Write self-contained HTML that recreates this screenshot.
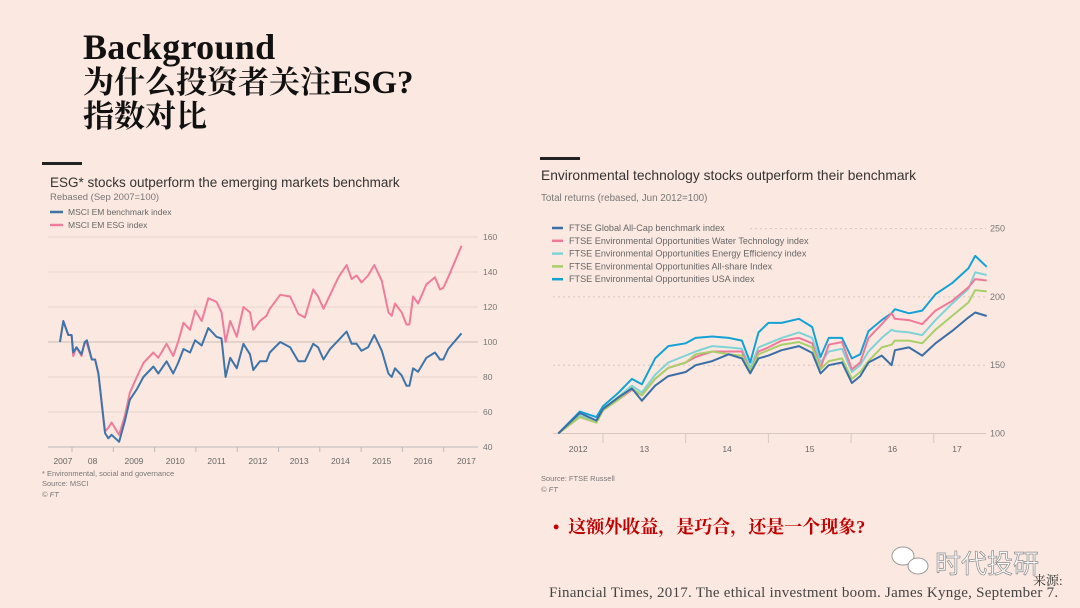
<!DOCTYPE html>
<html><head><meta charset="utf-8"><style>
body{margin:0;width:1080px;height:608px;background:#fbe9e1;overflow:hidden;position:relative;font-family:"Liberation Sans","Noto Sans CJK SC",sans-serif}
.t{position:absolute;white-space:nowrap}
</style></head><body>
<div class="t" style="left:83px;top:30px;font-family:'Liberation Serif','Noto Serif CJK SC',serif;font-weight:bold;font-size:31px;line-height:34px;color:#111"><span style="font-size:36px;letter-spacing:0.3px">Background</span><br>为什么投资者关注<span style="font-size:33px">ESG?</span><br>指数对比</div>
<svg width="1080" height="608" style="position:absolute;left:0;top:0">
<g id="left">
<rect x="42" y="162" width="40" height="3" fill="#222"/>
<text x="50" y="187" font-size="13.5" fill="#333">ESG* stocks outperform the emerging markets benchmark</text>
<text x="50" y="200" font-size="9.5" fill="#777">Rebased (Sep 2007=100)</text>
<line x1="50" y1="212" x2="63" y2="212" stroke="#3f74a8" stroke-width="2.5"/>
<text x="68" y="215" font-size="8.5" fill="#666">MSCI EM benchmark index</text>
<line x1="50" y1="225" x2="63" y2="225" stroke="#f07c9c" stroke-width="2.5"/>
<text x="68" y="228" font-size="8.5" fill="#666">MSCI EM ESG index</text>
<text x="42" y="476" font-size="7.5" fill="#777">* Environmental, social and governance</text>
<text x="42" y="486" font-size="7.5" fill="#777">Source: MSCI</text>
<text x="42" y="497" font-size="7.5" fill="#777" font-style="italic">© FT</text>
</g>
<g id="right">
<rect x="540" y="157" width="40" height="3" fill="#222"/>
<text x="541" y="180" font-size="13.8" fill="#333">Environmental technology stocks outperform their benchmark</text>
<text x="541" y="201" font-size="9.8" fill="#777">Total returns (rebased, Jun 2012=100)</text>
<text x="541" y="481" font-size="7.5" fill="#777">Source: FTSE Russell</text>
<text x="541" y="492" font-size="7.5" fill="#777" font-style="italic">© FT</text>
</g>
<g fill="#fff" stroke="#999" stroke-width="1">
<ellipse cx="903" cy="556" rx="11" ry="9"/>
<ellipse cx="918" cy="566" rx="10" ry="8"/>
</g>
</svg>
<div class="t" style="left:553px;top:513px;font-family:'Liberation Serif','Noto Serif CJK SC',serif;font-weight:bold;font-size:18px;color:#c00000">•&nbsp; 这额外收益，是巧合，还是一个现象?</div>
<div class="t" style="left:935px;top:544px;font-size:26px;color:#fff;-webkit-text-stroke:0.7px #8a8a8a;font-family:'Noto Sans CJK SC',sans-serif">时代投研</div>
<div class="t" style="left:1033px;top:570px;font-size:13px;color:#333;font-family:'Liberation Serif','Noto Serif CJK SC',serif">来源:</div>
<div class="t" style="left:549px;top:585px;font-size:15px;letter-spacing:0.25px;color:#444;font-family:'Liberation Serif',serif">Financial Times, 2017. The ethical investment boom. James Kynge, September 7.</div>
<script>
const NS='http://www.w3.org/2000/svg';
// Left chart data
const leftDates=[2007.71,2007.79,2007.91,2007.99,2008.03,2008.11,2008.23,2008.31,2008.36,2008.48,2008.56,2008.64,2008.80,2008.88,2008.96,2009.14,2009.28,2009.40,2009.57,2009.73,2009.97,2010.09,2010.29,2010.45,2010.57,2010.70,2010.86,2010.98,2011.14,2011.30,2011.50,2011.62,2011.72,2011.83,2011.99,2012.15,2012.31,2012.39,2012.55,2012.71,2012.79,2013.04,2013.28,2013.48,2013.64,2013.84,2013.96,2014.09,2014.25,2014.45,2014.65,2014.77,2014.89,2015.01,2015.17,2015.32,2015.50,2015.66,2015.74,2015.82,2015.98,2016.10,2016.17,2016.26,2016.38,2016.58,2016.79,2016.91,2016.99,2017.11,2017.43];
const benchmark=[100,112,104,104,94,97,93,100,101,90,90,82,48,45,47,43,55,67,73,80,86,82,89,82,88,96,94,101,98,108,103,102,80,91,85,99,93,84,89,89,94,100,97,89,89,99,97,90,96,101,106,99,99,95,97,104,95,82,80,85,81,75,75,85,83,91,94,90,90,96,105];
const esg=[100,112,104,104,92,97,92,100,99,90,90,82,49,51,54,47,58,71,80,88,94,91,99,92,100,111,107,118,112,125,123,117,100,112,103,120,117,107,112,115,119,127,126,116,114,130,126,119,127,137,144,136,138,134,138,144,135,117,115,122,117,110,110,126,122,133,137,130,131,137,155];
const leftTicks=[40,60,80,100,120,140,160];
const leftYearLabels=['2007','08','2009','2010','2011','2012','2013','2014','2015','2016','2017'];
const leftYearPos=[2007.78,2008.5,2009.5,2010.5,2011.5,2012.5,2013.5,2014.5,2015.5,2016.5,2017.55];
const leftTickYears=[2008,2009,2010,2011,2012,2013,2014,2015,2016,2017];
// Right chart data
const rightDates=[2012.46,2012.72,2012.92,2013.0,2013.19,2013.35,2013.47,2013.63,2013.79,2014.0,2014.12,2014.32,2014.52,2014.68,2014.78,2014.88,2015.0,2015.16,2015.37,2015.53,2015.63,2015.73,2015.89,2016.01,2016.11,2016.21,2016.37,2016.49,2016.53,2016.70,2016.86,2017.02,2017.22,2017.42,2017.5,2017.64];
const ftseAllCap=[100,115,109.5,118,126.6,133,124,135,142,145,150,153,158,155,144,155,157,161,164,159,144,150,152,137,142,152,157,150,161,163,157,166,175,185,188.6,186];
const waterTech=[100,112,108,117,125,132,128,140,148,152,156,160,160,160,145,160,163,168,170,166,148,165,167,147,152,170,180,188,184,183,180,190,197,207,213,212];
const energyEff=[100,113,109,118,127,135,130,143,152,157,160,164,163,162,148,163,166,170,174,170,152,160,162,145,150,160,170,176,175,174,172,183,195,206,218,216];
const allShare=[100,112,108,117,125,133,128,140,148,152,158,160,158,157,146,158,161,165,167,163,147,153,155,140,145,153,163,165,168,168,166,176,186,196,205,204];
const usaIdx=[100,116,112,120,130,140,136,155,164,166,170,171,170,168,152,174,181,181,184,178,156,170,170,155,158,175,183,188,191,188,190,202,210,221,230,222];
const rightTicks=[100,150,200,250];
const rightYearLabels=['2012','13','14','15','16','17'];
const rightYearPos=[2012.7,2013.5,2014.5,2015.5,2016.5,2017.28];
const rightTickYears=[2013,2014,2015,2016,2017];
const rightLegend=['FTSE Global All-Cap benchmark index','FTSE Environmental Opportunities Water Technology index','FTSE Environmental Opportunities Energy Efficiency index','FTSE Environmental Opportunities All-share Index','FTSE Environmental Opportunities USA index'];

const lx=y=>72+(y-2008)*41.3, ly=v=>342-(v-100)*1.75;
const rx=y=>603+(y-2013)*82.7, ry=v=>433.5-(v-100)*1.366;
function mk(parent,tag,attrs){const e=document.createElementNS(NS,tag);for(const k in attrs)e.setAttribute(k,attrs[k]);parent.appendChild(e);return e;}
const L=document.getElementById('left'), R=document.getElementById('right');
leftTicks.forEach(t=>{
  const g=mk(L,'line',{x1:48,x2:478,y1:ly(t),y2:ly(t),stroke:t===40?'#bbb':(t===100?'#c9bcb4':'#e3d5cc'),'stroke-width':1});
  
  
  const tx=mk(L,'text',{x:483,y:ly(t)+3,'font-size':8.5,fill:'#777'});tx.textContent=t;
  
  
});
leftTickYears.forEach(y=>{const l=mk(L,'line',{x1:lx(y),x2:lx(y),y1:447,y2:452,stroke:'#bbb'});
  
  });
leftYearLabels.forEach((s,i)=>{const t=mk(L,'text',{x:lx(leftYearPos[i]),y:464,'font-size':8.5,fill:'#666','text-anchor':'middle'});t.textContent=s;
  
  });
function line(parent,xs,ys,fx,fy,color,w,name){
  const p=mk(parent,'polyline',{points:xs.map((x,i)=>fx(x).toFixed(1)+','+fy(ys[i]).toFixed(1)).join(' '),fill:'none',stroke:color,'stroke-width':w,'stroke-linejoin':'round'});
  
  
}
line(L,leftDates,esg,lx,ly,'#f07c9c',2,'esg-index-line');
line(L,leftDates,benchmark,lx,ly,'#3f74a8',2,'benchmark-index-line');

rightTicks.forEach(t=>{
  const g=mk(R,'line',{x1:t===250?750:553,x2:986,y1:ry(t),y2:ry(t),stroke:t===100?'#d8c9c0':'#d6c6bc','stroke-width':1,'stroke-dasharray':t===100?'':'2,3'});
  
  
  const tx=mk(R,'text',{x:990,y:ry(t)+3,'font-size':9,fill:'#777'});tx.textContent=t;
  
  
});
rightTickYears.forEach(y=>{const l=mk(R,'line',{x1:rx(y),x2:rx(y),y1:434,y2:443,stroke:'#d6c6bc'});
  
  });
rightYearLabels.forEach((s,i)=>{const t=mk(R,'text',{x:rx(rightYearPos[i]),y:452,'font-size':8.5,fill:'#666','text-anchor':'middle'});t.textContent=s;
  
  });
const rColors=['#3a6ea5','#f0799a','#7fd3d6','#a8cf6a','#14a2d4'];
const rSeries=[ftseAllCap,waterTech,energyEff,allShare,usaIdx];
const rNames=['ftse-allcap-line','water-tech-line','energy-efficiency-line','all-share-line','usa-index-line'];
[4,2,1,3,0].forEach(i=>line(R,rightDates,rSeries[i],rx,ry,rColors[i],2,rNames[i]));
rightLegend.forEach((s,i)=>{
  const yy=228+i*12.8;
  const sw=mk(R,'line',{x1:552,x2:563,y1:yy,y2:yy,stroke:rColors[i],'stroke-width':2.5});
  
  
  const t=mk(R,'text',{x:569,y:yy+3,'font-size':9.1,fill:'#666'});t.textContent=s;
  
  
});
</script>
</body></html>
